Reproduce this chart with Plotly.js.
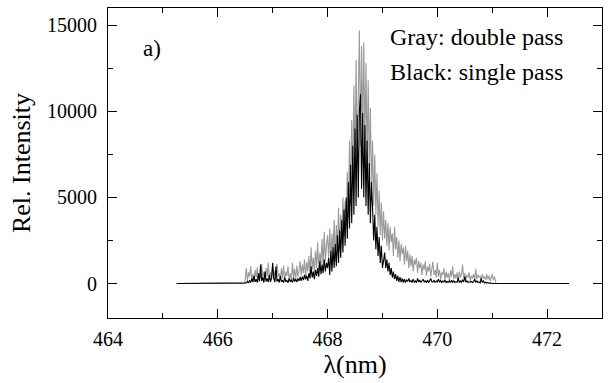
<!DOCTYPE html>
<html>
<head>
<meta charset="utf-8">
<script src="https://cdn.plot.ly/plotly-3.0.1.min.js"></script>
<style>html,body{margin:0;padding:0;background:#fff;}
#chart{width:614px;height:383px;}</style>
</head>
<body>
<div id="chart"></div>
<script>
// Wavelength grid of the noisy region (nm)
const lambdaStart = 466.50;
const lambdaStep = 0.02;
// Flat baseline end points (nm)
const baselineStart = 465.25;
const baselineEnd = 472.40;

// Gray: double pass (relative intensity), 466.50 ... 471.06 nm
const grayIntensity = [
  300,900,150,650,400,1000,200,550,120,800,350,950,180,600,300,1150,250,700,150,900,400,1200,200,650,300,1000,
  250,750,150,1150,400,600,200,900,300,1050,180,700,450,1000,250,600,150,1200,350,850,200,1050,400,700,1300,
  450,1100,600,1400,350,1250,700,1600,500,2100,800,1500,600,1900,900,2400,700,1800,1100,2600,900,3000,1300,2200,2800,
  1500,3200,1200,2900,1800,3700,1300,3400,2000,4400,1900,4000,2400,5000,2800,4800,3200,6500,3800,8300,
  4500,9500,5500,11500,6500,13000,7000,12500,14700,8000,13800,8500,14000,8000,12800,7000,11800,6500,10200,5500,
  8300,4500,7500,4000,6400,3300,5400,2800,4700,2500,
  4200,2600,3700,2200,3500,1900,3300,2400,2900,1600,3300,2000,2700,1500,2500,1300,2300,1700,2100,1100,2200,1300,1900,900,1700,
  1000,1600,700,1400,1100,1500,600,1300,900,1200,500,1100,800,1300,450,1000,700,1150,400,900,1270,500,800,350,1200,
  400,800,250,650,500,900,200,700,350,600,150,750,400,1000,250,550,300,650,150,700,350,550,1100,300,600,
  200,500,350,650,150,450,300,550,200,850,250,500,350,450,150,550,300,400,200,550,250,450,150,350,550,
  200,400,150
];

// Black: single pass (relative intensity), 466.50 ... 471.06 nm
const blackIntensity = [
  0,40,120,30,200,60,300,80,450,100,250,60,600,120,1100,150,350,60,700,120,300,80,500,100,300,1200,
  300,80,1000,120,250,60,450,100,200,60,350,120,180,50,300,100,220,60,350,120,250,80,300,150,380,
  150,400,200,500,250,450,150,600,300,1000,350,700,250,800,450,900,400,1300,550,1100,600,1400,700,1200,900,
  1500,500,1900,700,2100,900,2300,1000,2800,1200,3100,1500,3700,1800,4300,2200,5000,2600,5900,3200,
  6900,3500,8000,4000,9000,4500,9800,5000,10000,11000,5500,9900,5000,9200,4500,8300,4000,7000,3500,5900,
  4400,2500,4000,2000,3300,1600,2700,1200,2200,900,
  1300,1800,900,1400,700,1200,500,900,350,700,250,550,150,450,100,380,80,300,60,250,60,200,120,300,100,
  180,60,250,80,150,50,300,100,200,60,150,250,80,180,50,200,80,150,300,100,80,200,60,150,100,
  250,80,180,60,150,100,200,60,120,80,150,60,200,80,150,60,100,80,350,60,150,80,200,100,400,
  80,150,60,100,80,120,60,100,250,80,150,60,100,40,300,60,150,40,80,30,60,20,40,10,0,
  0,0,0
];

// Texts
const xTitle = '\u03bb(nm)';
const yTitle = 'Rel. Intensity';
const panelLabel = 'a)';
const grayLabel = 'Gray: double pass';
const blackLabel = 'Black: single pass';

function buildX(n) {
  const xs = [];
  for (let i = 0; i < n; i++) xs.push(+(lambdaStart + lambdaStep * i).toFixed(3));
  return xs;
}
function withBaseline(vals) {
  const xs = [baselineStart, lambdaStart - 0.01].concat(buildX(vals.length));
  xs.push(xs[xs.length - 1] + 0.01, baselineEnd);
  const ys = [0, 0].concat(vals, [0, 0]);
  return {x: xs, y: ys};
}

const grayLine = withBaseline(grayIntensity);
const blackLine = withBaseline(blackIntensity);

const SERIF = 'Liberation Serif, Times New Roman, Times, serif';
const INK = '#000000';

const traces = [
  {x: grayLine.x, y: grayLine.y, type: 'scatter', mode: 'lines', line: {color: '#9a9a9a', width: 1.1}, name: grayLabel, hoverinfo: 'skip'},
  {x: blackLine.x, y: blackLine.y, type: 'scatter', mode: 'lines', line: {color: '#000000', width: 1.1}, name: blackLabel, hoverinfo: 'skip'}
];

const layout = {
  width: 614, height: 383,
  margin: {l: 108, r: 12, t: 8, b: 65},
  paper_bgcolor: '#ffffff', plot_bgcolor: '#ffffff',
  showlegend: false,
  font: {family: SERIF, size: 20, color: INK},
  xaxis: {
    range: [464, 473], tick0: 464, dtick: 2,
    ticks: 'inside', ticklen: 9, tickwidth: 1, tickcolor: INK,
    minor: {dtick: 1, ticks: 'inside', ticklen: 5, tickcolor: INK, tickwidth: 1},
    showline: true, linecolor: INK, linewidth: 1, mirror: 'ticks',
    showgrid: false, zeroline: false,
    tickformat: 'd',
    tickfont: {family: SERIF, size: 20, color: INK},
    ticklabelstandoff: 3,
    title: {text: xTitle, font: {family: SERIF, size: 26, color: INK}, standoff: 2}
  },
  yaxis: {
    range: [-2000, 16000], tick0: 0, dtick: 5000,
    ticks: 'inside', ticklen: 9, tickwidth: 1, tickcolor: INK,
    minor: {dtick: 2500, ticks: 'inside', ticklen: 5, tickcolor: INK, tickwidth: 1},
    showline: true, linecolor: INK, linewidth: 1, mirror: 'ticks',
    showgrid: false, zeroline: false,
    tickformat: 'd',
    tickfont: {family: SERIF, size: 20, color: INK},
    ticklabelstandoff: 6,
    title: {text: yTitle, font: {family: SERIF, size: 26, color: INK}, standoff: 8}
  },
  annotations: [
    {text: panelLabel, xref: 'paper', yref: 'paper', x: 0.089, y: 0.87, xanchor: 'center', yanchor: 'middle', showarrow: false, font: {family: SERIF, size: 23, color: INK}},
    {text: grayLabel, xref: 'paper', yref: 'paper', x: 0.566, y: 0.905, xanchor: 'left', yanchor: 'middle', showarrow: false, font: {family: SERIF, size: 24, color: INK}},
    {text: blackLabel, xref: 'paper', yref: 'paper', x: 0.566, y: 0.792, xanchor: 'left', yanchor: 'middle', showarrow: false, font: {family: SERIF, size: 24, color: INK}}
  ]
};

Plotly.newPlot('chart', traces, layout, {staticPlot: true});
</script>
</body>
</html>
